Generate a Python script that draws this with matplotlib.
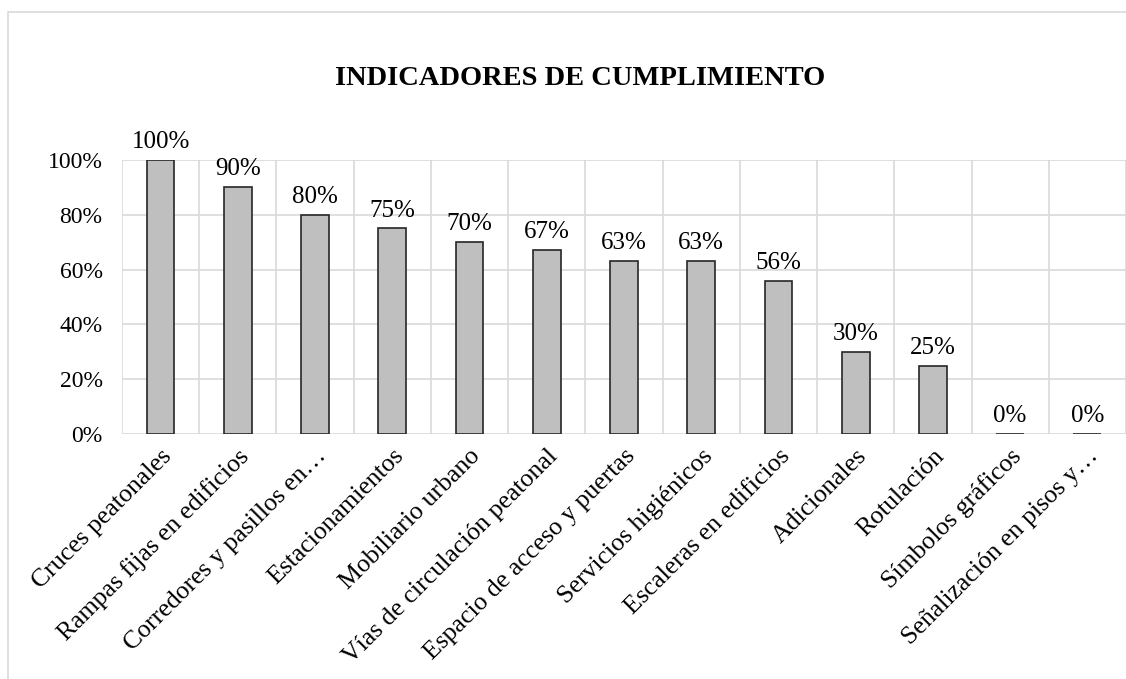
import matplotlib
matplotlib.use("Agg")
import matplotlib.pyplot as plt
from matplotlib.patches import Rectangle
import numpy as np

plt.rcParams['font.family'] = ['Liberation Serif', 'DejaVu Serif']

categories = ["Cruces peatonales", "Rampas fijas en edificios", "Corredores y pasillos en…",
              "Estacionamientos", "Mobiliario urbano", "Vías de circulación peatonal",
              "Espacio de acceso y puertas", "Servicios higiénicos", "Escaleras en edificios",
              "Adicionales", "Rotulación", "Símbolos gráficos", "Señalización en pisos y…"]
values = [100, 90, 80, 75, 70, 67, 63, 63, 56, 30, 25, 0, 0]
yticks = [0, 20, 40, 60, 80, 100]

fig = plt.figure(figsize=(11.26, 6.79), dpi=100)
ax = fig.add_axes([0.1083, 0.3608, 0.8917, 0.4036])

x = np.arange(len(categories))
ax.bar(x, values, width=0.36, color='#BFBFBF', edgecolor='#262626', linewidth=1.2, zorder=3)

for xi, v in zip(x, values):
    ax.annotate(f"{v}%", (xi, v), xytext=(0, 5), textcoords='offset points',
                ha='center', va='bottom', fontsize=18)

ax.set_xlim(-0.5, len(categories) - 0.5)
ax.set_ylim(0, 100)
ax.set_yticks(yticks)
ax.set_yticklabels([f"{t}%" for t in yticks], fontsize=17)
ax.set_xticks(x)
ax.set_xticklabels(categories, rotation=45, ha='right', rotation_mode='anchor', fontsize=18.5)
ax.set_xticks(np.arange(-0.5, len(categories)), minor=True)

ax.grid(axis='y', color='#D9D9D9', linewidth=1.2, zorder=0)
ax.grid(axis='x', which='minor', color='#D9D9D9', linewidth=1.2, zorder=0)
ax.tick_params(axis='both', which='both', length=0)
ax.tick_params(axis='y', pad=14)
ax.tick_params(axis='x', pad=8)
for s in ax.spines.values():
    s.set_visible(False)

fig.text(0.515, 0.885, "INDICADORES DE CUMPLIMIENTO", ha='center', va='center',
         fontsize=20.5, fontweight='bold')

fig.patches.append(Rectangle((0.0071, -0.01), 1.2, 0.9923, transform=fig.transFigure,
                             fill=False, edgecolor='#D9D9D9', linewidth=1.2))

fig.savefig("out.png", dpi=100)
